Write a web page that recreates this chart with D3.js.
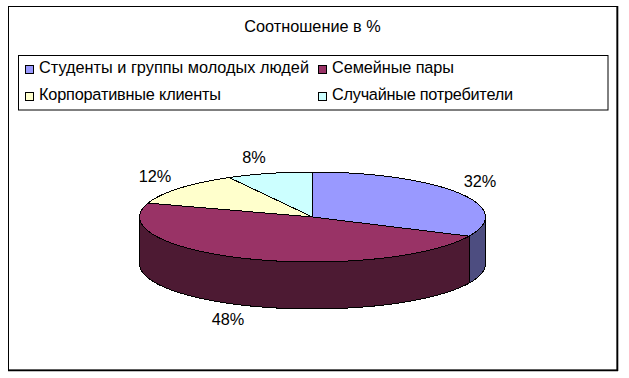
<!DOCTYPE html>
<html><head><meta charset="utf-8">
<script src="https://cdn.jsdelivr.net/npm/d3@7"></script>
<style>html,body{margin:0;padding:0;background:#fff}svg{display:block}text{font-family:"Liberation Sans",Arial,sans-serif;fill:#000}</style>
</head><body><script>
const titleText = "Соотношение в %";
const categories = ["Студенты и группы молодых людей","Семейные пары","Корпоративные клиенты","Случайные потребители"];
const values = [32,48,12,8];
const topColors = ["#9999FF","#993366","#FFFFCC","#CCFFFF"];
const sideColors = ["#4D4D80","#4D1A33","#808066","#668080"];
const W=629,H=378,cx=312.5,cy=217,rx=173,ry=45,depth=47;
const fs=16.3;
const legendTextWidths=[270,122,182,181];

const svg=d3.select("body").append("svg").attr("width",W).attr("height",H);
svg.append("rect").attr("x",8.5).attr("y",6.5).attr("width",608.5).attr("height",363.5).attr("fill","#fff").attr("stroke","#000");
// slightly heavier right and bottom edge of the frame
svg.append("path").attr("d","M617.5,6V371M8,370.5H618").attr("fill","none").attr("stroke","#000").attr("stroke-width",1.6);
svg.append("text").attr("x",312.5).attr("y",32).attr("text-anchor","middle").attr("font-size",fs).text(titleText);

// legend
svg.append("rect").attr("x",18.5).attr("y",55.5).attr("width",589.5).attr("height",54.5).attr("fill","#fff").attr("stroke","#000");
const colX=d3.scaleOrdinal().domain([0,1]).range([25,318]);
const rowY=d3.scaleOrdinal().domain([0,1]).range([65,92]);
const leg=svg.selectAll("g.leg").data(categories).join("g").attr("class","leg")
 .attr("transform",(d,i)=>`translate(${colX(i%2)},${rowY(Math.floor(i/2))})`);
leg.append("rect").attr("x",.5).attr("y",.5).attr("width",8).attr("height",8).attr("fill",(d,i)=>topColors[i]).attr("stroke","#000");
leg.append("text").attr("x",14).attr("y",8).attr("font-size",fs)
  .attr("textLength",(d,i)=>legendTextWidths[i]).attr("lengthAdjust","spacing").text(d=>d);

// pie
const arcs=d3.pie().sort(null)(values);
const pt=(a,dz=0)=>[cx+rx*Math.sin(a),cy-ry*Math.cos(a)+dz];
const line=d3.line();
const sweep=(a0,a1)=>d3.range(0,61).map(k=>a0+(a1-a0)*k/60);
const front0=Math.PI/2,front1=Math.PI*1.5;
const g=svg.append("g").attr("shape-rendering","crispEdges").attr("stroke-linejoin","round");
// side walls, drawn for the part of each slice facing the viewer
arcs.forEach((s,i)=>{
  const a0=Math.max(s.startAngle,front0),a1=Math.min(s.endAngle,front1);
  if(a1<=a0) return;
  const angs=sweep(a0,a1);
  const pts=angs.map(a=>pt(a)).concat(angs.slice().reverse().map(a=>pt(a,depth)));
  g.append("path").attr("d",line(pts)+"Z").attr("fill",sideColors[i]).attr("stroke","#000").attr("stroke-width",1);
});
// top faces
arcs.forEach((s,i)=>{
  const pts=[[cx,cy]].concat(sweep(s.startAngle,s.endAngle).map(a=>pt(a)));
  g.append("path").attr("d",line(pts)+"Z").attr("fill",topColors[i]).attr("stroke","#000").attr("stroke-width",1);
});
const labelPos=[[480,187],[228,325],[155,182],[254,163]];
svg.selectAll("text.pct").data(values).join("text").attr("class","pct")
 .attr("x",(d,i)=>labelPos[i][0]).attr("y",(d,i)=>labelPos[i][1]).attr("text-anchor","middle").attr("font-size",fs).text(d=>d+"%");
</script></body></html>
